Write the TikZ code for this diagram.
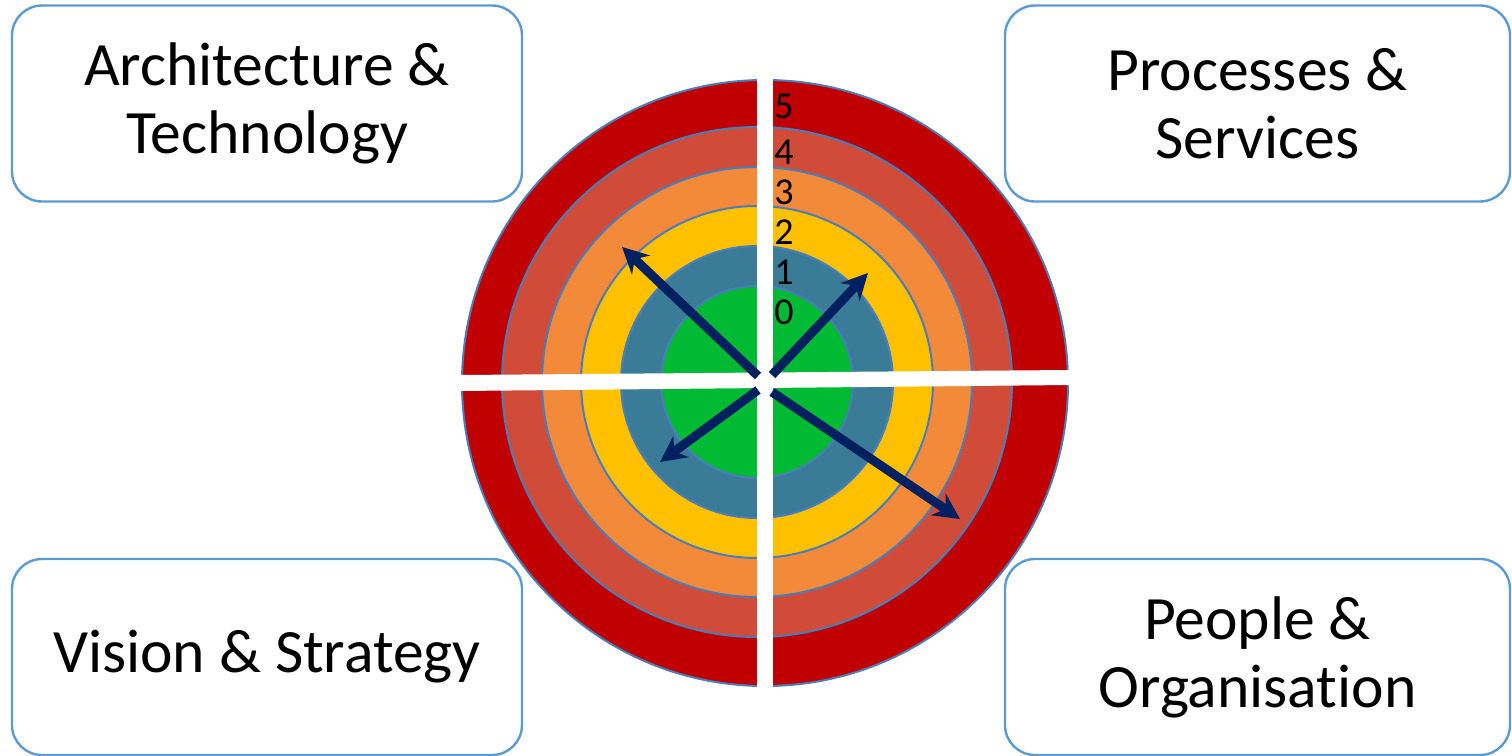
\documentclass[tikz,border=0pt]{standalone}
\usepackage{fontspec}
\setmainfont[Ligatures={NoCommon}]{Carlito}
\usetikzlibrary{arrows.meta}
\definecolor{lvlfive}{HTML}{C00000}
\definecolor{lvlfour}{HTML}{D04B38}
\definecolor{lvlthree}{HTML}{F38A3A}
\definecolor{lvltwo}{HTML}{FFC000}
\definecolor{lvlone}{HTML}{3A7C98}
\definecolor{lvlzero}{HTML}{00BA33}
\definecolor{ringline}{HTML}{4A7EBB}
\definecolor{boxline}{HTML}{5B9BD5}
\definecolor{navy}{HTML}{002060}
\begin{document}
\begin{tikzpicture}[x=0.5pt, y=-0.5pt,
  every node/.style = {align=center},
  area/.style = {draw=boxline, line width=1.2pt, rounded corners=15pt,
    minimum width=255pt, minimum height=98pt, inner sep=0pt,
    font=\fontsize{30.8}{34}\selectfont},
  ring/.style = {draw=ringline, line width=1pt},
  dir/.style = {draw=navy, line width=4.5pt, -{Stealth[length=13pt, width=13pt]}},
  lvl/.style = {inner sep=0pt, font=\fontsize{19}{19}\selectfont}]
\useasboundingbox (0,0) rectangle (1512,756);
\clip (0,0) rectangle (1512,756);
\node[area] (arch) at (267,103.5) {Architecture \&\\Technology};
\node[area, minimum width=252.5pt] (proc) at (1257.5,103.5) {Processes \&\\Services};
\node[area] (vision) at (267,657) {Vision \& Strategy};
\node[area, minimum width=252.5pt] (people) at (1257.5,657) {People \&\\Organisation};
\coordinate (hub) at (765,383);
\coordinate (core) at (757,382);
\draw[ring, fill=lvlfive] (hub) circle[radius=303];
\foreach \r/\c in {255/lvlfour, 215/lvlthree, 176/lvltwo, 136/lvlone, 96/lvlzero}
  \draw[ring, fill=\c] (core) circle[radius=\r];
\fill[white] (757,78) rectangle (773,688);
\fill[white] (460,375) -- (1070,370) -- (1070,385) -- (460,391) -- cycle;
\coordinate (nw0) at (758,376); \coordinate (nw) at (622,247);
\coordinate (ne0) at (772,375); \coordinate (ne) at (868,273);
\coordinate (sw0) at (758,390); \coordinate (sw) at (660,462);
\coordinate (se0) at (772,392); \coordinate (se) at (960,519);
\draw[dir] (nw0) -- (nw);
\draw[dir] (ne0) -- (ne);
\draw[dir] (sw0) -- (sw);
\draw[dir] (se0) -- (se);
\foreach \n/\y in {5/106.5, 4/152, 3/192, 2/232, 1/272, 0/312}
  \node[lvl] (n\n) at (784,\y) {\n};
\end{tikzpicture}
\end{document}
